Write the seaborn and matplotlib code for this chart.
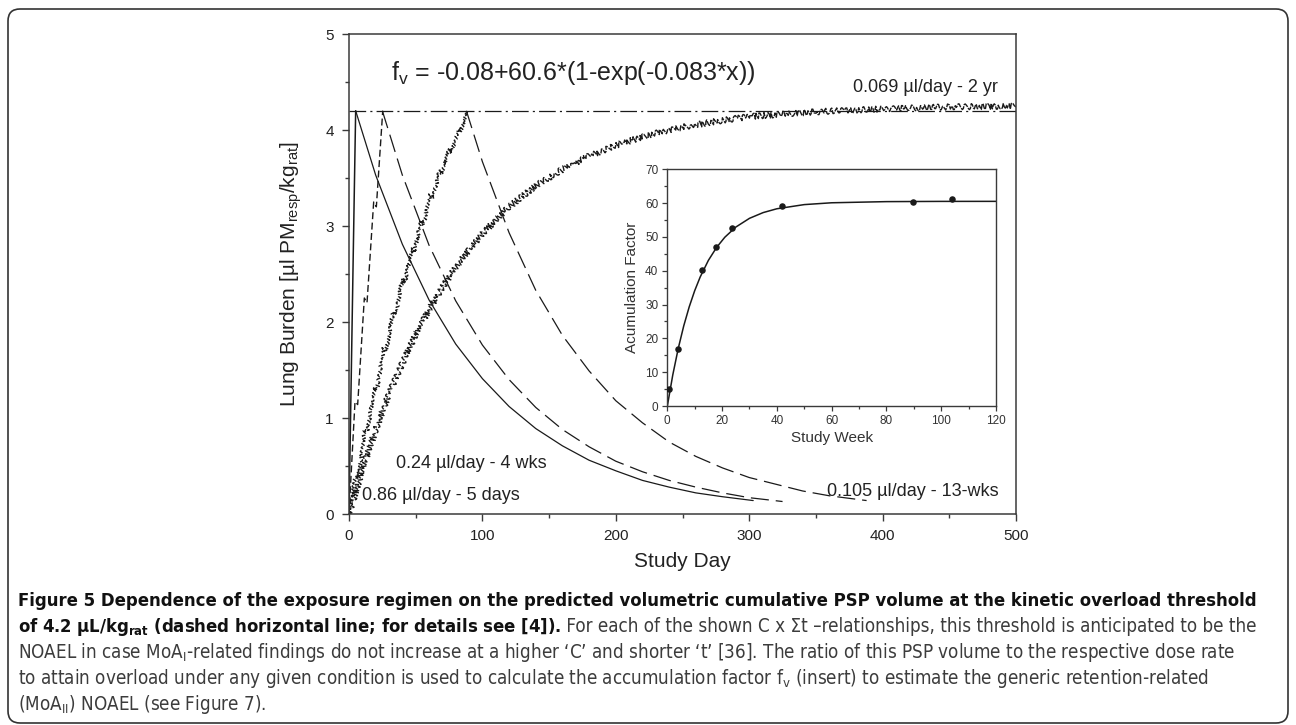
import matplotlib
matplotlib.use("Agg")
import matplotlib.pyplot as plt
import seaborn as sns
from matplotlib import font_manager
from matplotlib.patches import FancyBboxPatch
from matplotlib.transforms import IdentityTransform
from matplotlib.ticker import MultipleLocator

# ---- values (study day -> lung burden, µl/kg) ----
# 0.86 µl/day - 5 days (solid)
d5_rise_day = [0, 1, 2, 3, 4, 5]
d5_rise_lb = [0.0, 0.86, 1.70, 2.55, 3.38, 4.20]
d5_decay_day = [5, 20, 40, 60, 80, 100, 120, 140, 160, 180, 200, 220, 240, 260, 280, 303]
d5_decay_lb = [4.20, 3.53, 2.81, 2.23, 1.77, 1.41, 1.12, 0.89, 0.71, 0.56, 0.45, 0.35, 0.28, 0.22, 0.18, 0.14]

# 0.24 µl/day - 4 wks
w4_rise_day = [0, 4.5, 6.5, 11.5, 13.5, 18.5, 20.5, 25.3]
w4_rise_lb = [0.0, 1.17, 1.14, 2.25, 2.20, 3.25, 3.20, 4.20]
w4_decay_day = [25, 40, 60, 80, 100, 120, 140, 160, 180, 200, 220, 240, 260, 280, 300, 325]
w4_decay_lb = [4.20, 3.53, 2.80, 2.22, 1.76, 1.40, 1.11, 0.88, 0.70, 0.55, 0.44, 0.35, 0.28, 0.22, 0.17, 0.13]

# 0.105 µl/day - 13 wks
w13_rise_day = [0, 5, 7, 12, 14, 19, 21, 26, 28, 33, 35, 40, 42, 47, 49, 54, 56,
                61, 63, 68, 70, 75, 77, 82, 84, 88]
w13_rise_lb = [0.0, 0.40, 0.38, 0.88, 0.86, 1.32, 1.29, 1.73, 1.70, 2.10, 2.07, 2.45, 2.41,
               2.77, 2.73, 3.06, 3.02, 3.33, 3.29, 3.58, 3.54, 3.81, 3.77, 4.02, 3.98, 4.20]
w13_decay_day = [88, 100, 120, 140, 160, 180, 200, 220, 240, 260, 280, 300, 320, 340, 360, 388]
w13_decay_lb = [4.20, 3.67, 2.93, 2.33, 1.86, 1.49, 1.18, 0.95, 0.75, 0.60, 0.48, 0.38, 0.31, 0.24, 0.19, 0.14]

# 0.069 µl/day - 2 yr
y2_day = [0, 10, 20, 30, 40, 50, 60, 70, 80, 90, 100, 120, 140, 160, 180, 200,
          225, 250, 275, 300, 350, 400, 450, 500]
y2_lb = [0.0, 0.46, 0.88, 1.25, 1.57, 1.87, 2.13, 2.36, 2.57, 2.75, 2.92, 3.20, 3.42,
         3.59, 3.73, 3.84, 3.95, 4.03, 4.09, 4.14, 4.19, 4.22, 4.24, 4.25]

# overload threshold
threshold_day = [0, 500]
threshold_lb = [4.2, 4.2]

# insert: accumulation factor vs study week
insert_week = [0.7, 3.8, 12.7, 17.7, 23.7, 41.7, 89.8, 103.8]
insert_factor = [5.0, 17.0, 40.2, 46.9, 52.7, 59.1, 60.3, 61.1]
fit_week = [0, 2, 4, 6, 8, 10, 12, 15, 18, 21, 25, 30, 35, 40, 50, 60, 80, 100, 120]
fit_factor = [-0.08, 9.19, 17.04, 23.69, 29.32, 34.10, 38.14, 43.07, 46.90, 49.91,
              52.91, 55.50, 57.20, 58.33, 59.56, 60.10, 60.44, 60.51, 60.52]

labels = ["0.069 µl/day - 2 yr", "0.105 µl/day - 13-wks",
          "0.24 µl/day - 4 wks", "0.86 µl/day - 5 days"]
label_pos = [(378, 4.40), (358, 0.19), (35.2, 0.476), (9.5, 0.146)]
equation = "f$_{v}$ = -0.08+60.6*(1-exp(-0.083*x))"

cap_lines = [
    [("Figure 5 Dependence of the exposure regimen on the predicted volumetric "
      "cumulative PSP volume at the kinetic overload threshold", "bold")],
    [("of 4.2 µL/kg$_{rat}$ (dashed horizontal line; for details see [4]).", "bold"),
     (" For each of the shown C x Σt \u2013relationships, this threshold is "
      "anticipated to be the", "normal")],
    [("NOAEL in case MoA$_{I}$-related findings do not increase at a higher \u2018C\u2019 "
      "and shorter \u2018t\u2019 [36]. The ratio of this PSP volume to the respective "
      "dose rate", "normal")],
    [("to attain overload under any given condition is used to calculate the "
      "accumulation factor f$_{v}$ (insert) to estimate the generic retention-related", "normal")],
    [("(MoA$_{II}$) NOAEL (see Figure 7).", "normal")],
]

sns.set_style("ticks")
plt.rcParams["font.family"] = ["Liberation Sans", "DejaVu Sans"]
plt.rcParams["mathtext.fontset"] = "custom"
plt.rcParams["mathtext.rm"] = "Liberation Sans"
plt.rcParams["mathtext.default"] = "regular"
plt.rcParams["lines.scale_dashes"] = False
plt.rcParams["axes.unicode_minus"] = False

W, H = 1296, 725
fig = plt.figure(figsize=(W / 100, H / 100), dpi=100)
ink = "#1a1a1a"
axcol = "#3a3a3a"

# ---- main axes ----
ax = fig.add_axes([349 / W, 1 - 514 / H, 667 / W, 480 / H])


def curve(a, x, y, lw=0.9, dashes=None, sketch=None, z=2):
    sns.lineplot(x=x, y=y, ax=a, color=ink, lw=lw, estimator=None, sort=False, legend=False)
    ln = a.lines[-1]
    if dashes:
        ln.set_dashes(dashes)
    if sketch:
        ln.set_sketch_params(*sketch)
    ln.set_zorder(z)
    return ln


curve(ax, threshold_day, threshold_lb, lw=0.9, dashes=(12, 3, 1.5, 3))
curve(ax, d5_rise_day, d5_rise_lb, lw=1.1)
curve(ax, d5_decay_day, d5_decay_lb, lw=0.9)
curve(ax, w4_rise_day, w4_rise_lb, lw=1.0, dashes=(5, 2.5))
curve(ax, w4_decay_day, w4_decay_lb, lw=0.9, dashes=(13, 5))
curve(ax, w13_rise_day, w13_rise_lb, lw=1.0, dashes=(3, 1.5), sketch=(1.8, 4, 2))
curve(ax, w13_decay_day, w13_decay_lb, lw=0.9, dashes=(13, 5))
curve(ax, y2_day, y2_lb, lw=1.0, dashes=(4, 0.8), sketch=(3.0, 5, 3))

ax.set_xlim(0, 500)
ax.set_ylim(0, 5)
ax.xaxis.set_major_locator(MultipleLocator(100))
ax.xaxis.set_minor_locator(MultipleLocator(50))
ax.yaxis.set_major_locator(MultipleLocator(1))
ax.yaxis.set_minor_locator(MultipleLocator(0.5))
ax.tick_params(which="both", direction="out", color=axcol, width=1.0, labelsize=11,
               labelcolor="#222222", pad=6)
ax.tick_params(which="major", length=5)
ax.tick_params(which="minor", length=3)
for s in ax.spines.values():
    s.set_color(axcol)
    s.set_linewidth(1.1)
ax.set_xlabel("Study Day", fontsize=15, color="#222222", labelpad=6)
ax.set_ylabel("Lung Burden [µl PM$_{resp}$/kg$_{rat}$]", fontsize=15, color="#222222", labelpad=15)

for txt, (lx, ly) in zip(labels, label_pos):
    ax.text(lx, ly, txt, fontsize=13, color="#222222", ha="left", va="baseline")
ax.text(31.3, 4.52, equation, fontsize=18, color="#222222", ha="left", va="baseline")

# ---- insert ----
axi = fig.add_axes([667.3 / W, 1 - 406 / H, 328.7 / W, 236.7 / H])
axi.set_facecolor("white")
curve(axi, fit_week, fit_factor, lw=1.1)
sns.scatterplot(x=insert_week, y=insert_factor, ax=axi, color=ink, s=22, linewidth=0, zorder=3)
axi.set_xlim(0, 120)
axi.set_ylim(0, 70)
axi.xaxis.set_major_locator(MultipleLocator(20))
axi.xaxis.set_minor_locator(MultipleLocator(10))
axi.yaxis.set_major_locator(MultipleLocator(10))
axi.yaxis.set_minor_locator(MultipleLocator(5))
axi.tick_params(which="both", direction="out", color=axcol, width=0.9, labelsize=8.5,
                labelcolor="#333333", pad=3)
axi.tick_params(which="major", length=3.5)
axi.tick_params(which="minor", length=2)
for s in axi.spines.values():
    s.set_color(axcol)
    s.set_linewidth(1.0)
axi.set_xlabel("Study Week", fontsize=11, color="#333333", labelpad=3)
axi.set_ylabel("Acumulation Factor", fontsize=11, color="#333333", labelpad=4)

# ---- caption frame ----
frame = FancyBboxPatch((8, 2), 1280, 714, boxstyle="round,pad=0,rounding_size=12",
                       transform=IdentityTransform(), fill=False, edgecolor="#333333",
                       linewidth=1.2)
fig.add_artist(frame)


def find_font(name, **kw):
    try:
        return font_manager.findfont(font_manager.FontProperties(family=name, **kw),
                                     fallback_to_default=False)
    except ValueError:
        return None


cap_family, cap_stretch = "Liberation Sans", "normal"
if find_font("Liberation Sans Narrow"):
    cap_family = "Liberation Sans Narrow"
else:
    p = find_font("DejaVu Sans", stretch="condensed")
    if p and "Condensed" in p:
        cap_family, cap_stretch = "DejaVu Sans", "condensed"

renderer = fig.canvas.get_renderer()


def text_width(s, weight, size):
    t = fig.text(0, 0, s, fontsize=size, fontweight=weight, family=[cap_family, "DejaVu Sans"],
                 fontstretch=cap_stretch)
    w = t.get_window_extent(renderer).width
    t.remove()
    return w


# fit sizes so line lengths match the reference
bold_size = 14 * 1242 / text_width(cap_lines[0][0][0], "bold", 14)
reg_size = 14 * 1225 / text_width(cap_lines[2][0][0], "normal", 14)
cap_color = {"bold": "#111111", "normal": "#3c3c3c"}

baselines = [606, 632, 658, 684, 710]
for segs, base in zip(cap_lines, baselines):
    yf = 1 - base / H
    last = None
    for s, weight in segs:
        size = bold_size if weight == "bold" else reg_size
        kw = dict(fontsize=size, fontweight=weight, color=cap_color[weight],
                  family=[cap_family, "DejaVu Sans"], fontstretch=cap_stretch,
                  ha="left", va="baseline")
        if last is None:
            last = fig.text(18 / W, yf, s, **kw)
        else:
            last = plt.annotate(s, xy=(1, yf), xycoords=(last, "figure fraction"),
                                annotation_clip=False, **kw)

fig.savefig("out.png", dpi=100)
